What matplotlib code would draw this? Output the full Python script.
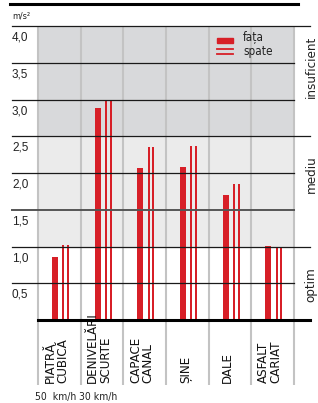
import matplotlib
matplotlib.use("Agg")
import matplotlib.pyplot as plt
from matplotlib import font_manager as fm
from matplotlib.transforms import blended_transform_factory, offset_copy
from matplotlib.lines import Line2D
import numpy as np

categories = ["PIATRĂ\nCUBICĂ", "DENIVELĂRI\nSCURTE", "CAPACE\nCANAL", "ȘINE", "DALE", "ASFALT\nCARIAT"]
fata = [0.86, 2.89, 2.07, 2.08, 1.70, 1.01]
spate = [1.02, 3.00, 2.36, 2.37, 1.85, 1.00]
yticks = [0.5, 1.0, 1.5, 2.0, 2.5, 3.0, 3.5, 4.0]
ytick_labels = ["0,5", "1,0", "1,5", "2,0", "2,5", "3,0", "3,5", "4,0"]
zones = ["optim", "mediu", "insuficient"]
zone_bounds = [0.0, 1.0, 2.5, 4.0]
speed_labels = ["50  km/h", "30 km/h"]

RED = "#d71f27"
names = {f.name for f in fm.fontManager.ttflist}
if "Liberation Sans Narrow" in names:
    COND = dict(family="Liberation Sans Narrow")
else:
    COND = dict(family="DejaVu Sans", fontstretch="condensed")
REG = dict(family="Liberation Sans")

W, H = 318, 403
fig = plt.figure(figsize=(W / 100, H / 100), dpi=100)
fig.patch.set_facecolor("white")

def fx(px):
    return px / W

def fy(py):
    return 1 - py / H

ax = fig.add_axes([fx(38), fy(320), fx(294) - fx(38), fy(26) - fy(320)])
ax.set_xlim(0, len(categories))
ax.set_ylim(0, 4.0)
ax.axis("off")

# zone backgrounds
ax.axhspan(zone_bounds[2], zone_bounds[3], color="#d8d9db", zorder=0)
ax.axhspan(zone_bounds[1], zone_bounds[2], color="#ebebeb", zorder=0)

# vertical grid lines (extend into label area)
ybot = -(385 - 320) / 73.5
ax.vlines(np.arange(len(categories) + 1), ybot, 4.0, colors="#c3c3c3", lw=1.5,
          clip_on=False, zorder=1)

# horizontal lines
tr = blended_transform_factory(fig.transFigure, ax.transData)
for v, lab in zip(yticks, ytick_labels):
    right = 310 if v in zone_bounds else 294
    col = "#555555" if v == 1.5 else "#1a1a1a"
    lw = 1.4 if v == 1.5 else 0.9
    fig.add_artist(Line2D([fx(12), fx(right)], [v, v], transform=tr, color=col, lw=lw, zorder=2))
    fig.text(fx(12), v, lab, transform=offset_copy(tr, fig=fig, y=-4, units="points"),
             ha="left", va="top", fontsize=8.5, color="#222222", **REG)

# bottom axis line
fig.add_artist(Line2D([fx(38), fx(310)], [0, 0], transform=tr, color="black", lw=2.2, zorder=5))
# top rule
fig.add_artist(Line2D([fx(10), fx(298)], [fy(4), fy(4)], color="black", lw=2.2))
fig.text(fx(12), fy(16), "m/s²", ha="left", va="center", fontsize=6.5, color="#222222", **COND)

# bars
x = np.arange(len(categories)) + 0.5
px = 1 / 42.7
ax.bar(x - 4.5 * px, fata, width=6 * px, color=RED, zorder=3)
ax.bar(x + 6.3 * px - 2.4 * px, spate, width=1.9 * px, color=RED, zorder=3)
ax.bar(x + 6.3 * px + 2.4 * px, spate, width=1.9 * px, color=RED, zorder=3)

# category labels
for xi, cat in zip(x, categories):
    xt = xi - 3 * px
    ax.text(xt, ybot + 2 / 73.5, cat, rotation=90, ha="center", va="bottom",
            multialignment="left", linespacing=0.95, fontsize=9.5, color="#111111", **COND)

# speed labels
fig.text(fx(56), fy(397), speed_labels[0], ha="center", va="center", fontsize=7.5, color="#222222", **COND)
fig.text(fx(98), fy(397), speed_labels[1], ha="center", va="center", fontsize=7.5, color="#222222", **COND)

# zone labels on right
trz = blended_transform_factory(fig.transFigure, ax.transData)
zone_y = [0.48, 1.98, 3.44]
for z, yc in zip(zones, zone_y):
    fig.text(fx(311), yc, z, transform=trz, rotation=90, ha="center", va="center",
             fontsize=9.5, color="#222222", **COND)

# legend
fig.add_artist(plt.Rectangle((fx(217), fy(43)), fx(16), fy(38) - fy(43), color=RED, transform=fig.transFigure))
fig.add_artist(Line2D([fx(217), fx(233)], [fy(49), fy(49)], color=RED, lw=1.3))
fig.add_artist(Line2D([fx(217), fx(233)], [fy(53.5), fy(53.5)], color=RED, lw=1.3))
fig.text(fx(243), fy(38), "fața", ha="left", va="center", fontsize=8.5, color="#222222", **COND)
fig.text(fx(243), fy(51), "spate", ha="left", va="center", fontsize=8.5, color="#222222", **COND)

fig.savefig("out.png", dpi=100, facecolor="white")
